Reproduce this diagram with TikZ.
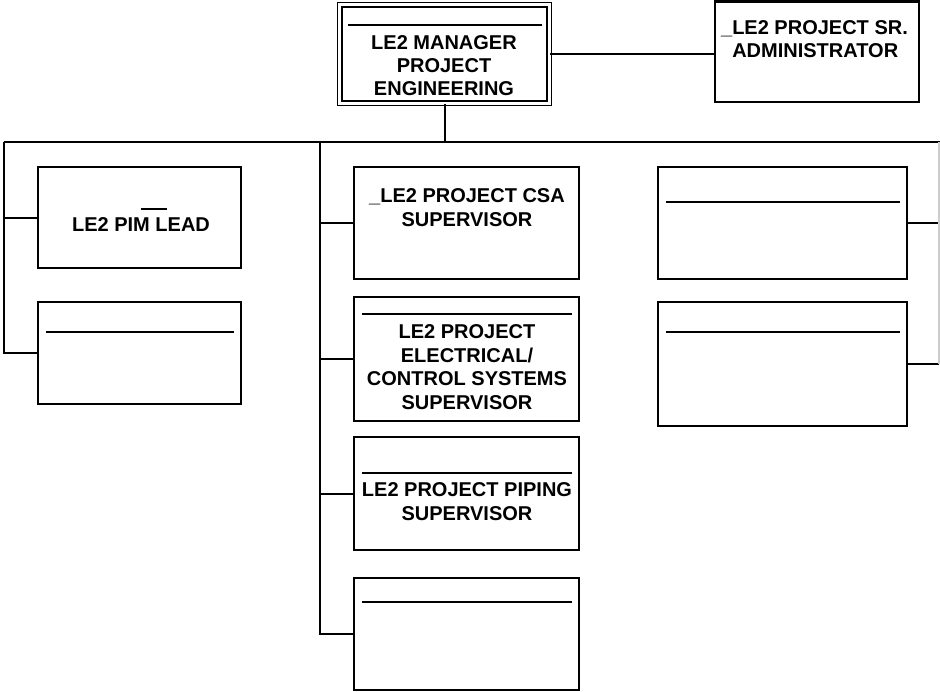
\documentclass[tikz,border=0pt]{standalone}
\usepackage{fontspec}
\setmainfont{Liberation Sans}
\usetikzlibrary{calc}
\def\px{0.75pt}

\begin{document}
\begin{tikzpicture}[x=0.75pt,y=-0.75pt]
		\tikzstyle{box}=[draw,line width=1.6pt,inner sep=0pt,fill=white]
		\tikzstyle{title}=[font=\bfseries\fontsize{15}{17.6}\selectfont,align=center,inner sep=0pt,anchor=base]
		\tikzstyle{rule}=[line width=1.6pt]
		\tikzstyle{link}=[line width=1.5pt]
		\useasboundingbox (0,0) rectangle (940,692);
		
		\node[box,double,double distance=1.9pt,line width=1.3pt,minimum width=209.5*\px,minimum height=98.5*\px](mgr) at (444.5,54){};
		\node[box,minimum width=204*\px,minimum height=100.5*\px](adm) at (817,51.75){};
		
		\node[box,minimum width=203*\px,minimum height=101*\px](pim) at (139.5,217.5){};
		\node[box,minimum width=203*\px,minimum height=102*\px](lft2) at (139.5,353){};
		
		\node[box,minimum width=225*\px,minimum height=112*\px](csa) at (466.5,223){};
		\node[box,minimum width=225*\px,minimum height=124*\px](ele) at (466.5,359){};
		\node[box,minimum width=225*\px,minimum height=113*\px](pip) at (466.5,493.5){};
		\node[box,minimum width=225*\px,minimum height=112*\px](mid4) at (466.5,634){};
		
		\node[box,minimum width=249*\px,minimum height=112*\px](rt1) at (782.5,223){};
		\node[box,minimum width=249*\px,minimum height=124*\px](rt2) at (782.5,364){};
		
		% base = baseline of the last line
		\node[title](mgr-t) at (444,96){LE2 MANAGER\\PROJECT\\ENGINEERING};
		\node[title,align=left,anchor=base west](adm-t) at (732,58){\llap{\_}LE2 PROJECT SR.\\ADMINISTRATOR};
		\node[title](pim-t) at (141,231){LE2 PIM LEAD};
		\node[title](csa-t) at (467,226){\_LE2 PROJECT CSA\\SUPERVISOR};
		\node[title](ele-t) at (467,409){LE2 PROJECT\\ELECTRICAL/\\CONTROL SYSTEMS\\SUPERVISOR};
		\node[title](pip-t) at (467,520){LE2 PROJECT PIPING\\SUPERVISOR};
		
		\foreach \n/\d in {mgr/21,lft2/31,ele/18,pip/37,mid4/25,rt1/36,rt2/31}
		\draw[rule] ([shift={(9,\d)}]\n.north west) -- ([shift={(-8,\d)}]\n.north east);
		\draw[rule] ([shift={(-0.5,-7.5)}]pim-t.north) -- ([shift={(25.5,-7.5)}]pim-t.north);
		
		\coordinate (bus-l) at (4,142);
		\coordinate (bus-m) at (320,142);
		\coordinate (bus-r) at (939,142);
		
		\draw[link] (mgr.south) -- (mgr.south |- bus-l);
		\draw[link] (bus-l) -- ($(bus-r)+(1,0)$);
		\draw[link] (mgr.east) -- (mgr.east -| adm.west);
		\foreach \n in {pim,lft2}
		\draw[link] (bus-l) |- (\n.west);
		\foreach \n in {csa,ele,pip,mid4}
		\draw[link] (bus-m) |- (\n.west);
		\foreach \n in {rt1,rt2}
		\draw[link] (\n.east) -- (\n.east -| bus-r);
		\draw[line width=1pt,black!20] (bus-r) -- (rt2.east -| bus-r);
\end{tikzpicture}
\end{document}
